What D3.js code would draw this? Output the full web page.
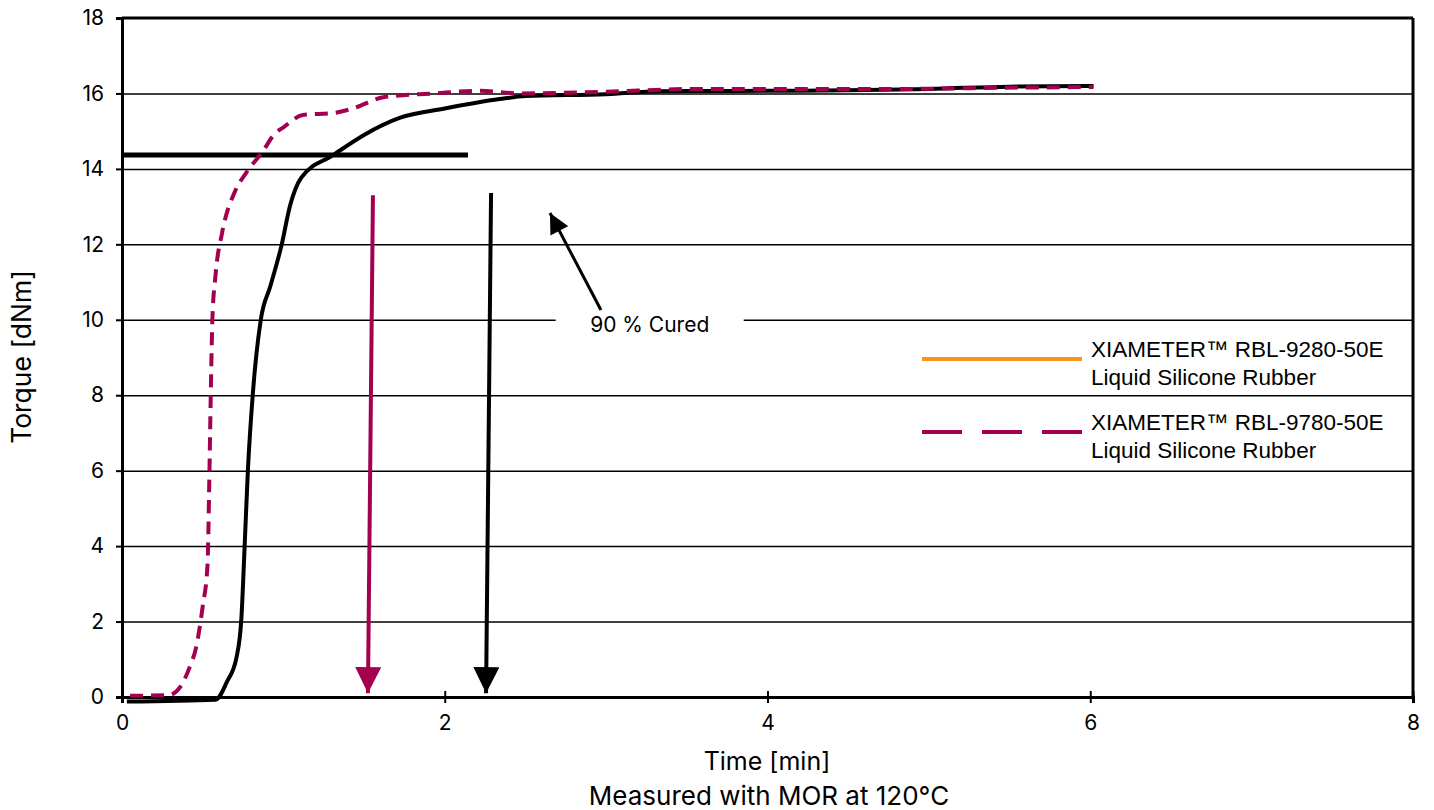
<!doctype html>
<html lang=en>
<head>
  <meta charset=utf-8>
  <title>Cure curves at 120 °C</title>
  <style>
    html, body {
      margin: 0;
      background: white;
    }
    svg {
      display: block;
      font-family: Inter, "Liberation Sans", Arial, sans-serif;
    }
    .grid line {
      stroke: black;
      stroke-width: 1.5;
    }
    .grid path {
      display: none;
    }
    path.curve {
      fill: none;
      stroke-width: 4;
      stroke-linejoin: round;
    }
    .legend text {
      font-family: "Liberation Sans", Arial, sans-serif;
    }
  </style>
  <script src=https://cdn.jsdelivr.net/npm/d3@7/dist/d3.min.js></script>
</head>
<body>
<svg id=chart width=1434 height=810></svg>
<script>
  // RBL-9280-50E (drawn black in the chart)
  const time9280 = [0.03, 0.58, 0.65, 0.71, 0.74, 0.76, 0.78, 0.81, 0.86, 0.92, 0.99, 1.04, 1.11, 1.31, 1.5, 1.72, 2.0, 2.34, 2.5, 3.0, 3.33, 4.0, 5.0, 5.5, 6.02]
  const torque9280 = [-0.12, -0.07, 0.4, 1.06, 2.1, 4.0, 6.0, 8.0, 10.0, 10.9, 12.0, 13.0, 13.76, 14.37, 14.9, 15.35, 15.6, 15.85, 15.93, 15.98, 16.06, 16.07, 16.12, 16.18, 16.2]

  // RBL-9780-50E (crimson dashed)
  const time9780 = [0.05, 0.29, 0.36, 0.42, 0.46, 0.5, 0.53, 0.54, 0.55, 0.56, 0.58, 0.62, 0.7, 0.77, 0.87, 0.95, 1.0, 1.12, 1.31, 1.43, 1.62, 1.93, 2.22, 2.47, 2.96, 3.58, 4.82, 5.44, 6.02]
  const torque9780 = [0.03, 0.05, 0.26, 0.8, 1.33, 2.4, 3.5, 5.5, 8.0, 10.0, 11.2, 12.3, 13.4, 13.9, 14.45, 14.95, 15.1, 15.43, 15.48, 15.6, 15.9, 16.0, 16.07, 16.0, 16.04, 16.12, 16.12, 16.15, 16.17]

  // 90 % cure level and the cure-time arrows
  const cureLevel = 14.37
  const cureLevelEnd = 2.144
  const cureArrows = [
    { name: 'RBL-9780-50E', t0: 1.555, v0: 13.3, t1: 1.524, v1: 0.1 },
    { name: 'RBL-9280-50E', t0: 2.287, v0: 13.36, t1: 2.256, v1: 0.1 },
  ]
  const noteText = '90 % Cured'
  const notePos = { t: 3.27, v: 9.9 }
  const notePointer = { t0: 2.968, v0: 10.26, t1: 2.652, v1: 12.83 }

  const xTicks = [0, 2, 4, 6, 8]
  const yTicks = [0, 2, 4, 6, 8, 10, 12, 14, 16, 18]
  const legendNames = ['XIAMETER™ RBL-9280-50E', 'XIAMETER™ RBL-9780-50E']
  const legendSub = 'Liquid Silicone Rubber'

  const crimson = '#a3004f'
  const orange = '#f7941d'

  const marginLeft = 122
  const marginRight = 21
  const marginTop = 18
  const marginBottom = 113
  const width = 1434 - marginLeft - marginRight
  const height = 810 - marginTop - marginBottom

  const svg = d3.select('#chart')
  const g = svg.append('g')
    .attr('transform', 'translate(' + marginLeft + ',' + marginTop + ')')

  const x = d3.scaleLinear().domain([0, 8]).range([0, width])
  const y = d3.scaleLinear().domain([0, 18]).range([height, 0])

  // horizontal grid lines
  g.append('g')
    .attr('class', 'grid')
    .call(d3.axisLeft(y).tickValues(yTicks.slice(1, -1)).tickSize(-width).tickFormat(''))

  // frame: top and right
  g.append('line')
    .attr('x1', 0).attr('x2', x(8))
    .attr('y1', y(18)).attr('y2', y(18))
    .attr('stroke', 'black').attr('stroke-width', 3)
  g.append('line')
    .attr('x1', x(8)).attr('x2', x(8))
    .attr('y1', y(18)).attr('y2', y(0))
    .attr('stroke', 'black').attr('stroke-width', 3)

  // y axis
  const gy = g.append('g')
    .call(d3.axisLeft(y).tickValues(yTicks).tickSize(6).tickPadding(12))
  gy.select('.domain').attr('stroke-width', 3)
  gy.selectAll('.tick line').attr('stroke-width', 2)
  gy.selectAll('.tick').filter(d => d === 18).select('line').remove()
  gy.selectAll('.tick text')
    .attr('font-size', 21)
    .attr('font-family', 'Inter, "Liberation Sans", Arial, sans-serif')
    .attr('fill', 'black')

  // x axis, ticks cross the line
  const gx = g.append('g')
    .attr('transform', 'translate(0,' + height + ')')
    .call(d3.axisBottom(x).tickValues(xTicks).tickSize(6).tickPadding(12).tickFormat(d3.format('d')))
  gx.select('.domain').attr('stroke-width', 3)
  gx.selectAll('.tick line').attr('y1', -6).attr('y2', 6).attr('stroke-width', 2)
  gx.selectAll('.tick text')
    .attr('font-size', 21)
    .attr('font-family', 'Inter, "Liberation Sans", Arial, sans-serif')
    .attr('fill', 'black')

  // 90 % cured reference line
  g.append('line')
    .attr('x1', x(0)).attr('x2', x(cureLevelEnd))
    .attr('y1', y(cureLevel)).attr('y2', y(cureLevel))
    .attr('stroke', 'black').attr('stroke-width', 5)

  const line = d3.line()
    .x(d => x(d[0]))
    .y(d => y(d[1]))
    .curve(d3.curveMonotoneX)

  g.append('path')
    .attr('class', 'curve')
    .datum(d3.zip(time9280, torque9280))
    .attr('stroke', 'black')
    .attr('d', line)

  g.append('path')
    .attr('class', 'curve')
    .datum(d3.zip(time9780, torque9780))
    .attr('stroke', crimson)
    .attr('stroke-dasharray', '13,8')
    .attr('d', line)

  // arrowheads
  const defs = svg.append('defs')
  for (const [id, color] of [['head-crimson', crimson], ['head-black', 'black']]) {
    defs.append('marker')
      .attr('id', id)
      .attr('viewBox', '0 0 10 10')
      .attr('refX', 10).attr('refY', 5)
      .attr('markerUnits', 'userSpaceOnUse')
      .attr('markerWidth', 26).attr('markerHeight', 26)
      .attr('orient', 'auto')
      .append('path')
        .attr('d', 'M0,0 L10,5 L0,10 Z')
        .attr('fill', color)
  }
  defs.append('marker')
    .attr('id', 'head-small')
    .attr('viewBox', '0 0 10 10')
    .attr('refX', 10).attr('refY', 5)
    .attr('markerUnits', 'userSpaceOnUse')
    .attr('markerWidth', 22).attr('markerHeight', 20)
    .attr('orient', 'auto')
    .append('path')
      .attr('d', 'M0,0 L10,5 L0,10 Z')
      .attr('fill', 'black')

  g.selectAll('line.cure-arrow')
    .data(cureArrows)
    .enter()
    .append('line')
      .attr('class', 'cure-arrow')
      .attr('x1', d => x(d.t0)).attr('y1', d => y(d.v0))
      .attr('x2', d => x(d.t1)).attr('y2', d => y(d.v1))
      .attr('stroke', (d, i) => i === 0 ? crimson : 'black')
      .attr('stroke-width', 4)
      .attr('marker-end', (d, i) => i === 0 ? 'url(#head-crimson)' : 'url(#head-black)')

  // note "90 % Cured"
  g.append('rect')
    .attr('x', x(notePos.t) - 94)
    .attr('y', y(notePos.v) - 16)
    .attr('width', 188)
    .attr('height', 30)
    .attr('fill', 'white')
  g.append('text')
    .attr('x', x(notePos.t))
    .attr('y', y(notePos.v) + 8)
    .attr('text-anchor', 'middle')
    .attr('font-size', 21)
    .text(noteText)
  g.append('line')
    .attr('x1', x(notePointer.t0)).attr('y1', y(notePointer.v0))
    .attr('x2', x(notePointer.t1)).attr('y2', y(notePointer.v1))
    .attr('stroke', 'black')
    .attr('stroke-width', 3)
    .attr('marker-end', 'url(#head-small)')

  // legend
  const legend = svg.append('g').attr('class', 'legend').attr('transform', 'translate(922,359)')
  legendNames.forEach((name, i) => {
    const row = legend.append('g').attr('transform', 'translate(0,' + (i * 73) + ')')
    row.append('line')
      .attr('x1', 0).attr('x2', 160)
      .attr('stroke', i === 0 ? orange : crimson)
      .attr('stroke-width', 4)
      .attr('stroke-dasharray', i === 0 ? null : '40,20')
    row.append('text')
      .attr('x', 169).attr('y', -2)
      .attr('font-size', 22.5)
      .text(name)
    row.append('text')
      .attr('x', 169).attr('y', 26)
      .attr('font-size', 22.5)
      .text(legendSub)
  })

  // axis titles
  svg.append('text')
    .attr('x', 767).attr('y', 770)
    .attr('text-anchor', 'middle')
    .attr('font-size', 25)
    .text('Time [min]')
  svg.append('text')
    .attr('x', 769).attr('y', 805)
    .attr('text-anchor', 'middle')
    .attr('font-size', 26)
    .text('Measured with MOR at 120°C')
  svg.append('text')
    .attr('transform', 'translate(31,357) rotate(-90)')
    .attr('text-anchor', 'middle')
    .attr('font-size', 26.5)
    .text('Torque [dNm]')
</script>
</body>
</html>
